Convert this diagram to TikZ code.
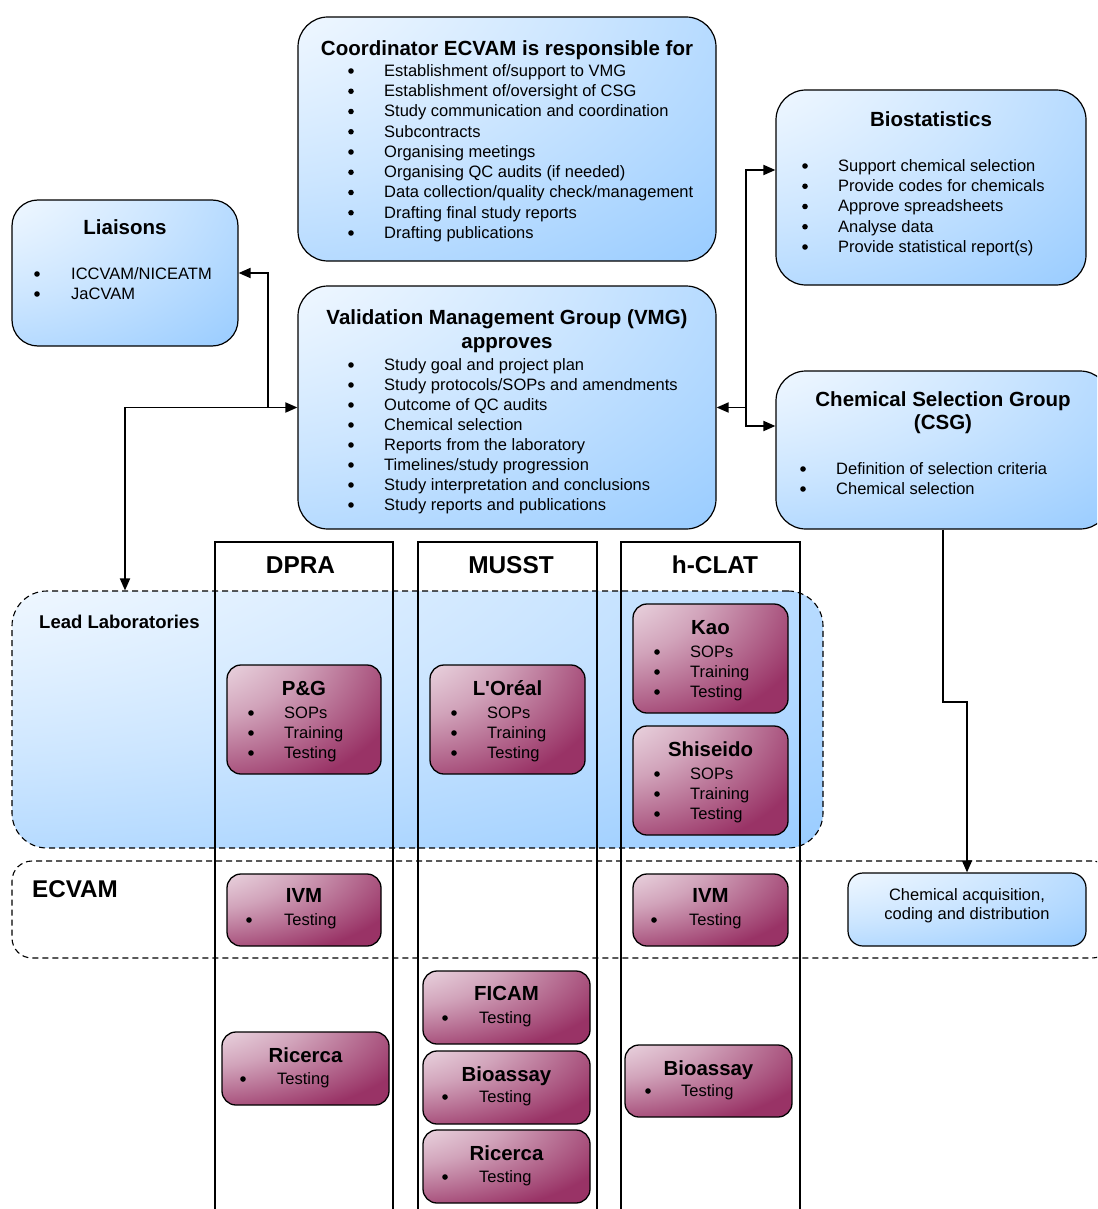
\documentclass[tikz,border=0pt]{standalone}
\usepackage{fontspec}
\setmainfont{Liberation Sans}
\usetikzlibrary{arrows.meta}
\definecolor{lblue}{RGB}{153,204,255}
\definecolor{maroonc}{RGB}{153,51,102}
\colorlet{lbluemid}{lblue!50!white}
\colorlet{maroonmid}{maroonc!45!white}
\pgfdeclareradialshading{bluecorner}{\pgfpoint{-50bp}{50bp}}{color(0bp)=(white); color(14bp)=(white); color(45bp)=(lbluemid); color(72bp)=(lblue); color(150bp)=(lblue)}
\pgfdeclareradialshading{marooncorner}{\pgfpoint{-50bp}{50bp}}{color(0bp)=(white); color(10bp)=(white); color(38bp)=(maroonmid); color(64bp)=(maroonc); color(150bp)=(maroonc)}
\tikzset{
  bluebox/.style={draw, line width=1.2pt, rounded corners=30pt, shade, shading=bluecorner, inner sep=0pt},
  labbox/.style={draw, line width=1.3pt, rounded corners=14pt, shade, shading=marooncorner, inner sep=0pt},
  region/.style={draw, line width=1.1pt, dashed, dash pattern=on 6pt off 4pt, inner sep=0pt},
  column/.style={draw, line width=1.1pt, inner sep=0pt},
  tt/.style={inner sep=0pt, anchor=base, font=\bfseries\fontsize{20.5}{24}\selectfont},
  ct/.style={inner sep=0pt, anchor=base, font=\bfseries\fontsize{24.4}{28}\selectfont},
  lt/.style={inner sep=0pt, anchor=base, font=\bfseries\fontsize{20.4}{24}\selectfont},
  it/.style={inner sep=0pt, anchor=base west, font=\fontsize{16.5}{20}\selectfont},
  ctext/.style={inner sep=0pt, anchor=base, font=\fontsize{16.5}{20}\selectfont},
  conn/.style={line width=1.8pt, -{Triangle[length=12pt,width=10pt]}},
}
\newcommand\shbox[6]{\node[#2, minimum width={#5-#3}, minimum height={#6-#4}] (#1) at ({(#3+#5)/2},{(#4+#6)/2}) {};}
\newcommand\blist[6]{\foreach \t [count=\i] in {#6}{%
  \fill ({#2},{#4+(\i-1)*#5+1}) circle (2.8pt);
  \node[it] (#1-\i) at ({#3},{#4+(\i-1)*#5+6.3}) {\t};}}
\begin{document}
\begin{tikzpicture}[x=1pt,y=-1pt]
\clip (0,0) rectangle (1097,1209);
% regions
\shbox{lead}{region, rounded corners=35pt, shade, shading=bluecorner}{12}{591}{823}{848}
\node[inner sep=0pt, anchor=base west, font=\bfseries\fontsize{18.5}{22}\selectfont] (lead-t) at (39,628) {Lead Laboratories};
\shbox{ecvam}{region, rounded corners=20pt}{12}{861}{1112}{958}
\node[inner sep=0pt, anchor=base west, font=\bfseries\fontsize{24.2}{28}\selectfont] (ecvam-t) at (32,897) {ECVAM};
% columns
\shbox{dpra}{column}{215}{542}{393}{1240}
\shbox{musst}{column}{418}{542}{597}{1240}
\shbox{hclat}{column}{621}{542}{800}{1240}
\node[ct] (dpra-t) at (300.5,573) {DPRA};
\node[ct] (musst-t) at (511,573) {MUSST};
\node[ct] (hclat-t) at (715,573) {h-CLAT};
% top boxes
\shbox{coord}{bluebox}{298}{17}{716}{261}
\node[tt] (coord-t) at (507,55.5) {Coordinator ECVAM is responsible for};
\blist{coord}{351}{384}{70}{20.25}{Establishment of/support to VMG,Establishment of/oversight of CSG,Study communication and coordination,Subcontracts,Organising meetings,Organising QC audits (if needed),Data collection/quality check/management,Drafting final study reports,Drafting publications}
\shbox{bio}{bluebox}{776}{90}{1086}{285}
\node[tt] (bio-t) at (931,126.5) {Biostatistics};
\blist{bio}{805}{838}{165}{20.25}{Support chemical selection,Provide codes for chemicals,Approve spreadsheets,Analyse data,Provide statistical report(s)}
\shbox{liaisons}{bluebox, rounded corners=26pt}{12}{200}{238}{346}
\node[tt] (liaisons-t) at (125,234.5) {Liaisons};
\blist{liaisons}{37}{71}{273}{20}{ICCVAM/NICEATM,JaCVAM}
\shbox{vmg}{bluebox}{298}{286}{716}{529}
\node[tt] (vmg-t1) at (507,324.5) {Validation Management Group (VMG)};
\node[tt] (vmg-t2) at (507,348.5) {approves};
\blist{vmg}{351}{384}{364}{20}{Study goal and project plan,Study protocols/SOPs and amendments,Outcome of QC audits,Chemical selection,Reports from the laboratory,Timelines/study progression,Study interpretation and conclusions,Study reports and publications}
\shbox{csg}{bluebox}{776}{371}{1110}{529}
\node[tt] (csg-t1) at (943,406.5) {Chemical Selection Group};
\node[tt] (csg-t2) at (943,429.5) {(CSG)};
\blist{csg}{803}{836}{468}{20}{Definition of selection criteria,Chemical selection}
\shbox{chem}{bluebox, rounded corners=15pt}{848}{873}{1086}{946}
\node[ctext] (chem-t1) at (967,900.5) {Chemical acquisition,};
\node[ctext] (chem-t2) at (967,919.5) {coding and distribution};
% lab boxes
\shbox{pg}{labbox}{227}{665}{381}{774}
\node[lt] (pg-t) at (304,695.5) {P\&G};
\blist{pg}{251}{284}{712}{20}{SOPs,Training,Testing}
\shbox{loreal}{labbox}{430}{665}{585}{774}
\node[lt] (loreal-t) at (507.5,695.5) {L\textquotesingle Oréal};
\blist{loreal}{454}{487}{712}{20}{SOPs,Training,Testing}
\shbox{kao}{labbox}{633}{604}{788}{713}
\node[lt] (kao-t) at (710.5,634.5) {Kao};
\blist{kao}{657}{690}{651}{20}{SOPs,Training,Testing}
\shbox{shiseido}{labbox}{633}{726}{788}{835}
\node[lt] (shiseido-t) at (710.5,756.5) {Shiseido};
\blist{shiseido}{657}{690}{773}{20}{SOPs,Training,Testing}
\shbox{ivma}{labbox}{227}{874}{381}{946}
\node[lt] (ivma-t) at (304,902.5) {IVM};
\blist{ivma}{249}{284}{919}{20}{Testing}
\shbox{ivmb}{labbox}{633}{874}{788}{946}
\node[lt] (ivmb-t) at (710.5,902.5) {IVM};
\blist{ivmb}{654}{689}{919}{20}{Testing}
\shbox{ficam}{labbox}{423}{971}{590}{1044}
\node[lt] (ficam-t) at (506.5,1000.5) {FICAM};
\blist{ficam}{445}{479}{1017}{20}{Testing}
\shbox{bioa}{labbox}{423}{1051}{590}{1124}
\node[lt] (bioa-t) at (506.5,1081.5) {Bioassay};
\blist{bioa}{445}{479}{1096}{20}{Testing}
\shbox{ricb}{labbox}{423}{1130}{590}{1203}
\node[lt] (ricb-t) at (506.5,1160.5) {Ricerca};
\blist{ricb}{445}{479}{1176}{20}{Testing}
\shbox{rica}{labbox}{222}{1032}{389}{1105}
\node[lt] (rica-t) at (305.5,1062.5) {Ricerca};
\blist{rica}{243}{277}{1078}{20}{Testing}
\shbox{biob}{labbox}{625}{1045}{792}{1117}
\node[lt] (biob-t) at (708.5,1075.5) {Bioassay};
\blist{biob}{648}{681}{1090}{20}{Testing}
% connectors
\coordinate (ljoin) at (268,407.5);
\coordinate (lvjoin) at (125,407.5);
\coordinate (rjoin) at (746,407.5);
\draw[conn, {Triangle[length=12pt,width=10pt]}-{Triangle[length=12pt,width=10pt]}] (lead.north -| lvjoin) |- (vmg.west);
\draw[conn] (ljoin) |- (liaisons.east);
\draw[conn] (rjoin) -- (vmg.east);
\draw[conn] (rjoin) |- ([yshift=17.5pt]bio.west);
\draw[conn] (rjoin) |- ([yshift=24pt]csg.west);
\draw[conn] (csg.south) -- ++(0,172) -| (chem.north);
\end{tikzpicture}
\end{document}
